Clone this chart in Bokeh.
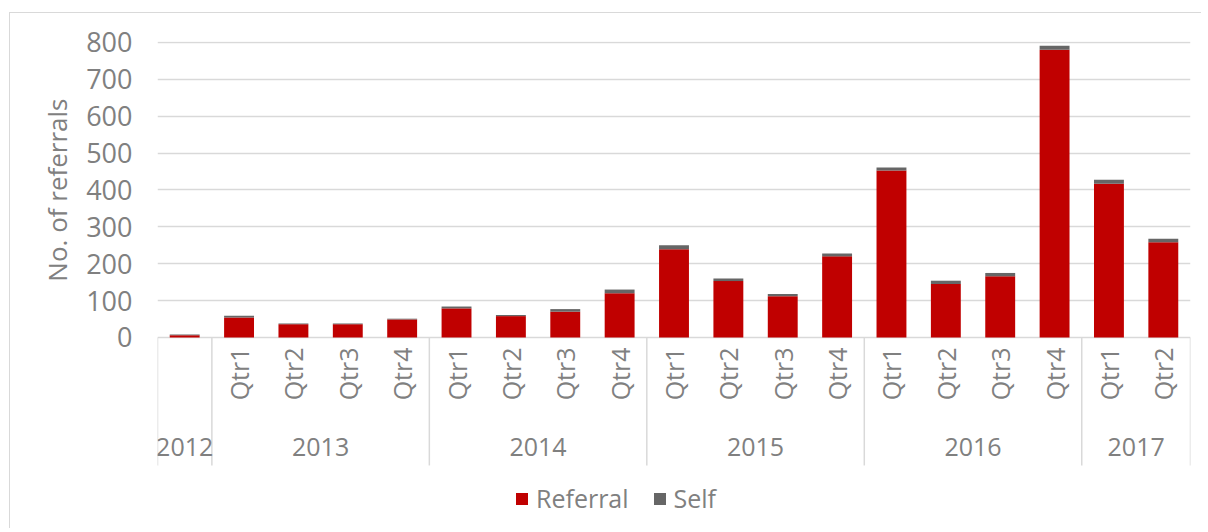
from bokeh.plotting import figure
from bokeh.models import (FactorRange, Range1d, FixedTicker, ColumnDataSource,
                          Legend, LegendItem, Title)
from bokeh.transform import dodge
from bokeh.core.properties import value
from bokeh.embed import file_html
from bokeh.resources import INLINE

# ---------------- data ----------------
years = ["2012", "2013", "2013", "2013", "2013", "2014", "2014", "2014", "2014",
         "2015", "2015", "2015", "2015", "2016", "2016", "2016", "2016", "2017", "2017"]
quarters = ["", "Qtr1", "Qtr2", "Qtr3", "Qtr4", "Qtr1", "Qtr2", "Qtr3", "Qtr4",
            "Qtr1", "Qtr2", "Qtr3", "Qtr4", "Qtr1", "Qtr2", "Qtr3", "Qtr4", "Qtr1", "Qtr2"]
referral = [6, 54, 36, 36, 49, 79, 58, 70, 120, 239, 153, 112, 220, 453, 145, 166, 780, 417, 258]
self_ref = [2, 5, 2, 2, 2, 5, 3, 7, 10, 11, 7, 6, 8, 8, 9, 9, 11, 11, 10]
y_ticks = [0, 100, 200, 300, 400, 500, 600, 700, 800]
series_names = ["Referral", "Self"]
y_title = "No. of referrals"

# ---------------- styles ----------------
RED = "#C00000"
GREY = "#666666"
TEXT = "#808080"
LINE = "#d9d9d9"
FONT = "Open Sans"
FS = "25px"

factors = list(zip(years, quarters))
unique_years = list(dict.fromkeys(years))

src = ColumnDataSource(dict(x=factors, referral=referral, self=self_ref, q=quarters))

x_range = FactorRange(*factors, group_padding=0, factor_padding=0,
                      subgroup_padding=0, range_padding=0)
y_range = Range1d(-520.7, 802.7)

p = figure(width=1192, height=516, x_range=x_range, y_range=y_range,
           output_backend="svg", toolbar_location=None, x_axis_location=None,
           min_border_left=147, min_border_right=12, min_border_top=28,
           min_border_bottom=0)
p.outline_line_color = None
p.xgrid.grid_line_color = None
p.ygrid.grid_line_color = LINE
p.ygrid.grid_line_width = 1.5
p.styles = {"margin-left": "9px", "margin-top": "12px",
            "border-left": "1px solid #d9d9d9", "border-top": "1px solid #d9d9d9"}

# y axis
ya = p.yaxis[0]
ya.ticker = FixedTicker(ticks=y_ticks)
ya.axis_line_color = None
ya.major_tick_line_color = None
ya.minor_tick_line_color = None
ya.major_label_standoff = 19
ya.major_label_text_font = FONT
ya.major_label_text_font_size = "27px"
ya.major_label_text_color = TEXT

# y title, placed against the value part of the plot
p.add_layout(Title(text=y_title, align="right", offset=57, standoff=18,
                   text_font=FONT, text_font_size="26px", text_font_style="normal",
                   text_color=TEXT), "left")

# stacked bars
rs = p.vbar_stack(["referral", "self"], x="x", width=0.55, source=src,
                  color=[RED, GREY], line_color=None)

# category axis separators (group boundaries)
starts = [f for i, f in enumerate(factors) if i == 0 or years[i] != years[i - 1]]
p.segment(x0=dodge("x", -0.5, range=p.x_range), x1=dodge("x", -0.5, range=p.x_range),
          y0=0, y1=-347, source=ColumnDataSource(dict(x=starts)),
          line_color=LINE, line_width=1.5)
p.segment(x0=dodge("x", 0.5, range=p.x_range), x1=dodge("x", 0.5, range=p.x_range),
          y0=0, y1=-347, source=ColumnDataSource(dict(x=[factors[-1]])),
          line_color=LINE, line_width=1.5)

# quarter labels (vertical)
p.text(x="x", y=0, text="q", source=src, angle=1.5708, y_offset=10,
       text_align="right", text_baseline="middle", text_font=value(FONT),
       text_font_size=FS, text_color=TEXT)

# year labels
p.text(x=unique_years, y=[0] * len(unique_years), text=unique_years, y_offset=110,
       text_align="center", text_baseline="middle", text_font=value(FONT),
       text_font_size=FS, text_color=TEXT)

legend = Legend(items=[LegendItem(label=series_names[0], renderers=[rs[0]]),
                       LegendItem(label=series_names[1], renderers=[rs[1]])],
                orientation="horizontal", location=(357, 14),
                border_line_color=None, background_fill_alpha=0,
                padding=0, margin=0, spacing=23, label_standoff=7,
                glyph_width=15, glyph_height=15,
                label_text_font=FONT, label_text_font_size=FS,
                label_text_color=TEXT)
p.add_layout(legend, "center")

open("out.html", "w").write(file_html(p, INLINE))
